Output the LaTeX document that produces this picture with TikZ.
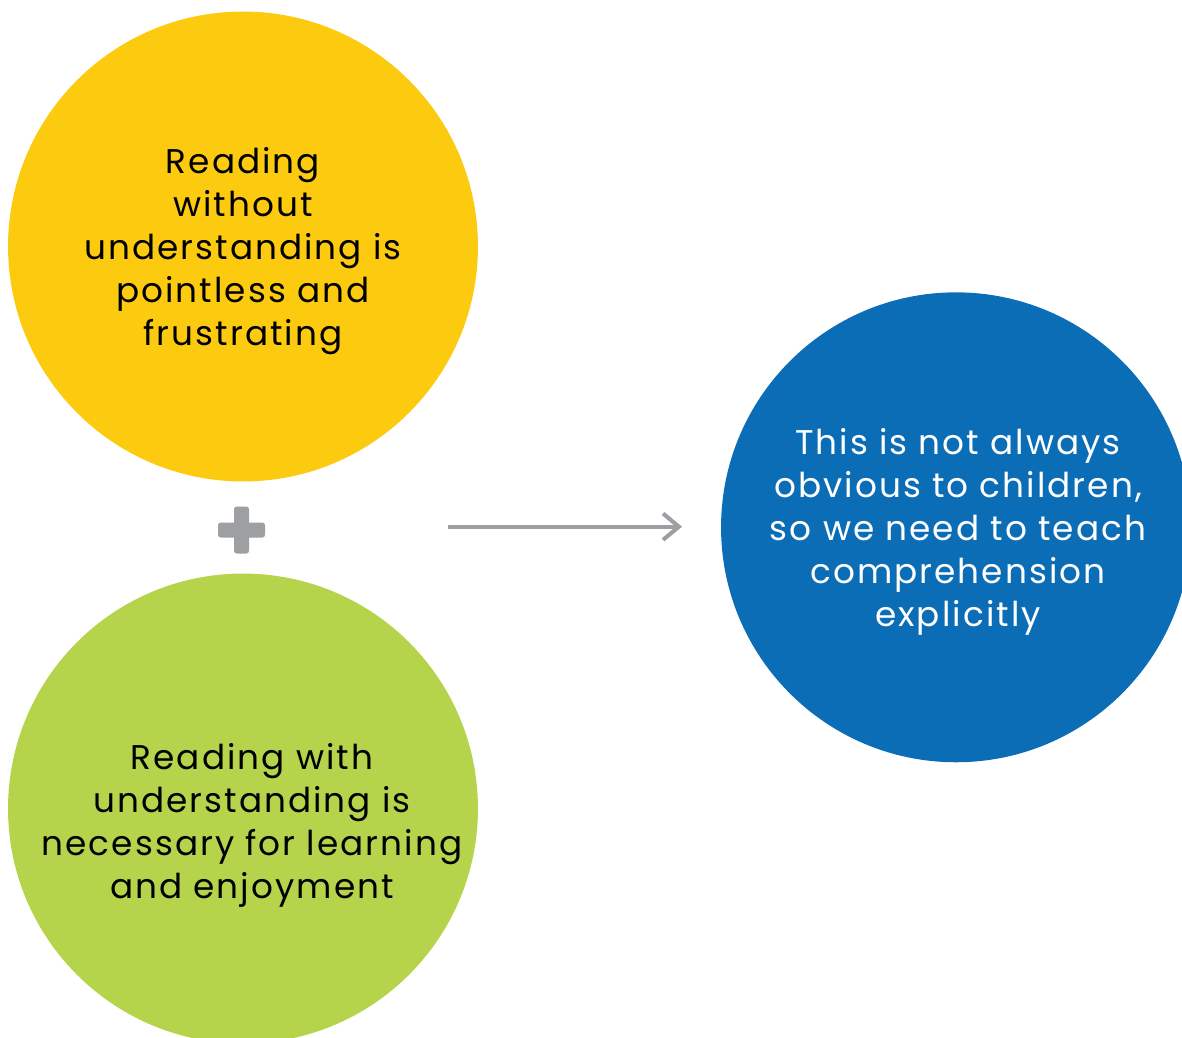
\documentclass[tikz,border=0pt]{standalone}
\usepackage{fontspec}
\setmainfont{Poppins}[LetterSpace=6]
\usetikzlibrary{arrows.meta}

\definecolor{readyellow}{HTML}{FCCB10}
\definecolor{readgreen}{HTML}{B6D44B}
\definecolor{readblue}{HTML}{0C6DB7}
\definecolor{signgray}{HTML}{9D9FA2}

\tikzset{
  bubble/.style={circle, minimum size=9.4cm, inner sep=0pt},
  bubbletext/.style={align=center, font=\fontsize{19.5}{24.5}\selectfont},
}

\begin{document}
\begin{tikzpicture}[x=0.02cm, y=-0.02cm]
            \useasboundingbox (0,0) rectangle (1182,1037);
            \clip (0,0) rectangle (1182,1037);
            \node[bubble, fill=readyellow] (without) at (243,246.5) {};
            \node[bubble, fill=readgreen] (with) at (243,808.5) {};
            \node[bubble, fill=readblue] (explicit) at (956,527.3) {};
            \node[bubbletext] (withouttext) at (243,251) {Reading\\without\\understanding is\\pointless and\\frustrating};
            \node[bubbletext] (withtext) at (252,825) {Reading with\\understanding is\\necessary for learning\\and enjoyment};
            \node[bubbletext, text=white] (explicittext) at (958,532) {This is not always\\obvious to children,\\so we need to teach\\comprehension\\explicitly};
            % plus sign
            \coordinate (plus) at (241.5,530);
            \fill[signgray, rounded corners=1.5pt] ([xshift=-0.47cm,yshift=-0.15cm]plus) rectangle ([xshift=0.47cm,yshift=0.15cm]plus);
            \fill[signgray, rounded corners=1.5pt] ([xshift=-0.15cm,yshift=-0.47cm]plus) rectangle ([xshift=0.15cm,yshift=0.47cm]plus);
            % arrow
            \coordinate (arrowstart) at (448,526.7);
            \coordinate (arrowend) at (682,526.7);
            \draw[signgray, line width=2.3pt, -{Straight Barb[length=9pt, width=15pt]}] (arrowstart) -- (arrowend);
        \end{tikzpicture}
\end{document}
